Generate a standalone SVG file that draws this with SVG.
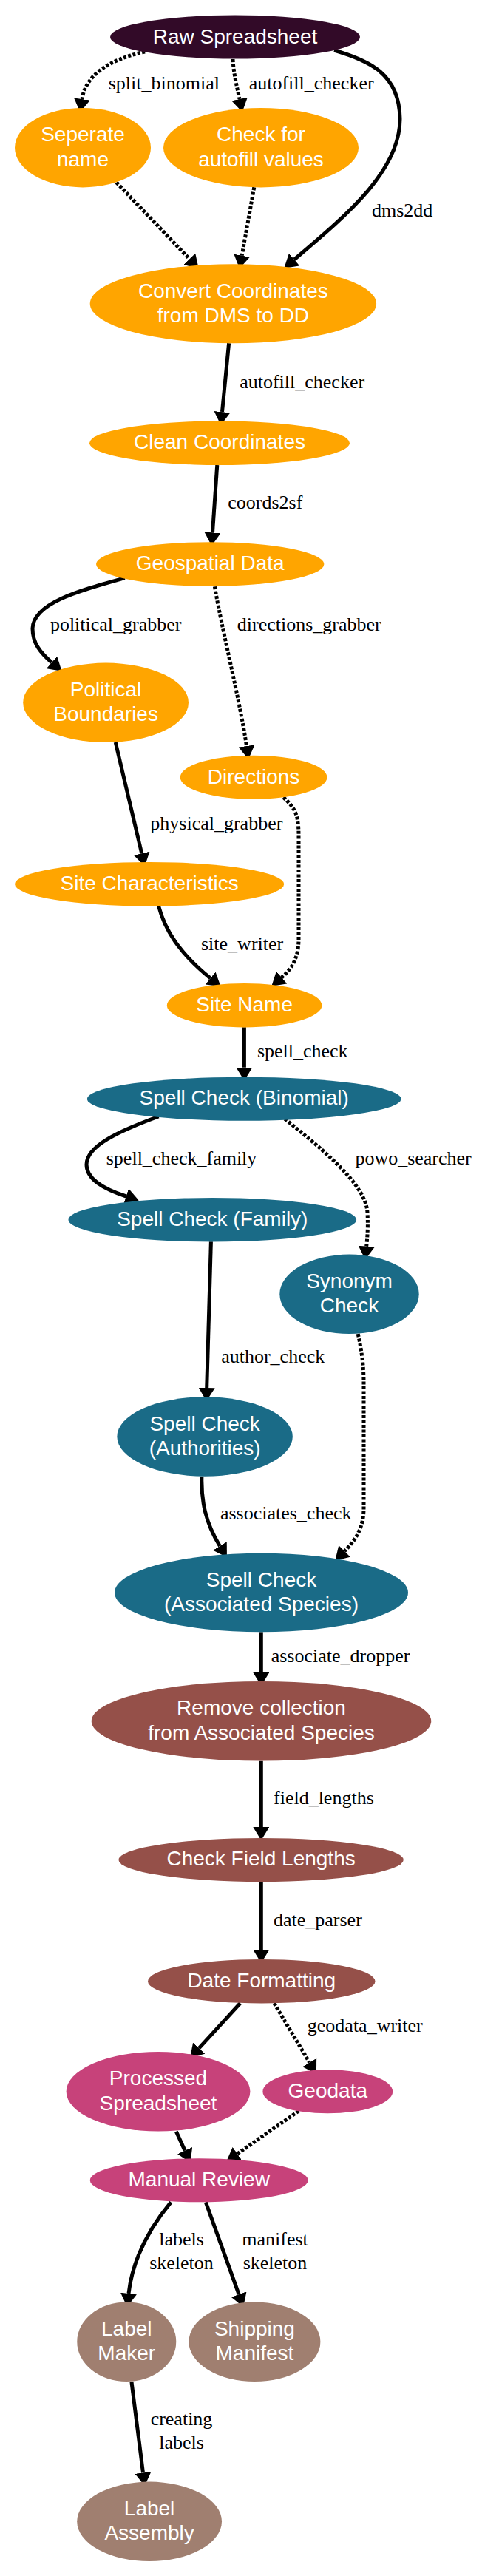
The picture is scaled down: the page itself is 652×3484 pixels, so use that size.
<svg xmlns="http://www.w3.org/2000/svg" width="652" height="3484" viewBox="0 0 652 3484">
<defs>
<marker id="ah" markerUnits="userSpaceOnUse" markerWidth="18" markerHeight="22" viewBox="0 0 18 22" refX="0" refY="11" orient="auto"><path d="M0,0 L18,11 L0,22 z" fill="#000"/></marker>
</defs>
<style>
.e{fill:none;stroke:#000;stroke-width:5;marker-end:url(#ah)}
.d{stroke-dasharray:4 2.5}
.nt{font-family:"Liberation Sans",Arial,sans-serif;font-size:28px;fill:#fff;text-anchor:middle}
.lt{font-family:"Liberation Serif","Times New Roman",serif;font-size:26px;fill:#000}
.m{text-anchor:middle}
.c1{fill:#320a28}.c2{fill:#ffa500}.c3{fill:#1a6b87}.c4{fill:#955049}.c5{fill:#c7427a}.c6{fill:#a07f70}
</style>
<rect width="652" height="3484" fill="#fff"/>
<g id="edges">
<path class="e d" d="M196,70 C150,80 116,100 111,134"/>
<path class="e d" d="M315,80 C316,100 320,115 324,134"/>
<path class="e" d="M452,68 C500,82 540,100 541,160 C542,230 470,290 398,351"/>
<path class="e d" d="M157.5,246.7 L256.3,350.3"/>
<path class="e d" d="M343.75,253.3 L327.2,345.6"/>
<path class="e" d="M309.6,464.3 L300.5,557.1"/>
<path class="e" d="M293.75,629 L287.5,720.3"/>
<path class="e" d="M168.75,781.7 C110,798 45,815 44,850 C44,870 55,883 70,896"/>
<path class="e d" d="M290.4,793.3 C300,850 325,950 333.5,1009"/>
<path class="e" d="M156.25,1004 L191.7,1154.2"/>
<path class="e d" d="M383.3,1078.3 C398,1092 404,1100 404,1130 L404,1270 C404,1295 395,1310 381,1322"/>
<path class="e" d="M214.6,1225.7 C225,1265 250,1295 284.6,1323"/>
<path class="e" d="M330.4,1389.3 L330.4,1443.7"/>
<path class="e" d="M214.6,1510 C160,1530 117,1550 117,1575 C117,1595 140,1608 170.6,1618"/>
<path class="e d" d="M385.4,1513.3 C430,1550 495,1600 497,1640 C498,1660 497,1672 495.7,1685.7"/>
<path class="e" d="M285.4,1679.3 L279.7,1877"/>
<path class="e" d="M272.9,1996.7 C272,2030 278,2060 297.4,2091"/>
<path class="e d" d="M484.2,1804 C490,1830 492,1850 492,1870 L492,2040 C492,2065 482,2082 466,2098"/>
<path class="e" d="M353.3,2207.3 L353.3,2262"/>
<path class="e" d="M353.3,2381.7 L353.3,2471"/>
<path class="e" d="M353.3,2545 L353.3,2637"/>
<path class="e" d="M325,2709.3 L269.2,2770.1"/>
<path class="e d" d="M370.8,2709.3 L418.7,2789.5"/>
<path class="e" d="M238.3,2882.7 L250.1,2908.6"/>
<path class="e d" d="M404.2,2855 L321,2913"/>
<path class="e" d="M231.25,2978.3 C205,3010 180,3050 174,3102"/>
<path class="e" d="M278.3,2978.3 L323.1,3103.1"/>
<path class="e" d="M177.9,3221 L193.5,3344.4"/>
</g>
<g id="edge-labels">
<text class="lt" x="146.7" y="120.7">split_binomial</text>
<text class="lt" x="336.7" y="120.7">autofill_checker</text>
<text class="lt" x="503" y="293.3">dms2dd</text>
<text class="lt" x="324.2" y="525">autofill_checker</text>
<text class="lt" x="308.3" y="688.3">coords2sf</text>
<text class="lt" x="67.9" y="852.7">political_grabber</text>
<text class="lt" x="320.8" y="852.7">directions_grabber</text>
<text class="lt" x="203.3" y="1121.7">physical_grabber</text>
<text class="lt" x="272" y="1285">site_writer</text>
<text class="lt" x="347.9" y="1430">spell_check</text>
<text class="lt" x="143.75" y="1575">spell_check_family</text>
<text class="lt" x="480.4" y="1575">powo_searcher</text>
<text class="lt" x="299.2" y="1843.3">author_check</text>
<text class="lt" x="297.9" y="2055">associates_check</text>
<text class="lt" x="366.7" y="2248.3">associate_dropper</text>
<text class="lt" x="370" y="2440">field_lengths</text>
<text class="lt" x="370" y="2605">date_parser</text>
<text class="lt" x="415.8" y="2748.3">geodata_writer</text>
<text class="lt m" x="245.5" y="3036.7">labels</text>
<text class="lt m" x="245.5" y="3069.3">skeleton</text>
<text class="lt m" x="372" y="3036.7">manifest</text>
<text class="lt m" x="372" y="3069.3">skeleton</text>
<text class="lt m" x="245.5" y="3280">creating</text>
<text class="lt m" x="245.5" y="3311.7">labels</text>
</g>
<g id="n1"><ellipse class="c1" cx="318" cy="50" rx="169" ry="29.5"/><text class="nt" x="318" y="59">Raw Spreadsheet</text></g>
<g id="n2"><ellipse class="c2" cx="112" cy="199.7" rx="92" ry="53.7"/><text class="nt" x="112" y="191.2">Seperate</text><text class="nt" x="112" y="224.7">name</text></g>
<g id="n3"><ellipse class="c2" cx="353" cy="199.7" rx="132" ry="53.7"/><text class="nt" x="353" y="191.2">Check for</text><text class="nt" x="353" y="224.7">autofill values</text></g>
<g id="n4"><ellipse class="c2" cx="315.4" cy="410.8" rx="193.7" ry="53.5"/><text class="nt" x="315.4" y="402.5">Convert Coordinates</text><text class="nt" x="315.4" y="435.5">from DMS to DD</text></g>
<g id="n5"><ellipse class="c2" cx="297" cy="599.2" rx="176" ry="29.8"/><text class="nt" x="297" y="607">Clean Coordinates</text></g>
<g id="n6"><ellipse class="c2" cx="284.2" cy="763" rx="154.2" ry="29.7"/><text class="nt" x="284.2" y="771">Geospatial Data</text></g>
<g id="n7"><ellipse class="c2" cx="143.1" cy="950.3" rx="111.9" ry="53.7"/><text class="nt" x="143.1" y="941.7">Political</text><text class="nt" x="143.1" y="975">Boundaries</text></g>
<g id="n8"><ellipse class="c2" cx="343.1" cy="1051.2" rx="99.4" ry="29.5"/><text class="nt" x="343.1" y="1059.5">Directions</text></g>
<g id="n9"><ellipse class="c2" cx="202.1" cy="1195.8" rx="182.1" ry="29.8"/><text class="nt" x="202.1" y="1203.5">Site Characteristics</text></g>
<g id="n10"><ellipse class="c2" cx="330.6" cy="1359.7" rx="104.8" ry="29.7"/><text class="nt" x="330.6" y="1367.5">Site Name</text></g>
<g id="n11"><ellipse class="c3" cx="330.2" cy="1486.2" rx="212.3" ry="29.5"/><text class="nt" x="330.2" y="1494">Spell Check (Binomial)</text></g>
<g id="n12"><ellipse class="c3" cx="287.3" cy="1649.7" rx="194.8" ry="29.7"/><text class="nt" x="287.3" y="1657.5">Spell Check (Family)</text></g>
<g id="n13"><ellipse class="c3" cx="472.5" cy="1750.3" rx="94.2" ry="53.7"/><text class="nt" x="472.5" y="1742">Synonym</text><text class="nt" x="472.5" y="1775.3">Check</text></g>
<g id="n14"><ellipse class="c3" cx="277.1" cy="1943" rx="118.75" ry="53.7"/><text class="nt" x="277.1" y="1934.5">Spell Check</text><text class="nt" x="277.1" y="1967.8">(Authorities)</text></g>
<g id="n15"><ellipse class="c3" cx="353.5" cy="2154" rx="198.5" ry="53.3"/><text class="nt" x="353.5" y="2145.5">Spell Check</text><text class="nt" x="353.5" y="2178.8">(Associated Species)</text></g>
<g id="n16"><ellipse class="c4" cx="353.5" cy="2327.8" rx="229.8" ry="53.8"/><text class="nt" x="353.5" y="2319.3">Remove collection</text><text class="nt" x="353.5" y="2352.6">from Associated Species</text></g>
<g id="n17"><ellipse class="c4" cx="353.1" cy="2515.5" rx="192.7" ry="29.5"/><text class="nt" x="353.1" y="2523.3">Check Field Lengths</text></g>
<g id="n18"><ellipse class="c4" cx="353.75" cy="2679.7" rx="153.75" ry="29.7"/><text class="nt" x="353.75" y="2687.5">Date Formatting</text></g>
<g id="n19"><ellipse class="c5" cx="214" cy="2828.8" rx="124.4" ry="53.8"/><text class="nt" x="214" y="2820.3">Processed</text><text class="nt" x="214" y="2853.6">Spreadsheet</text></g>
<g id="n20"><ellipse class="c5" cx="443.3" cy="2828.8" rx="87.9" ry="29.5"/><text class="nt" x="443.3" y="2836.6">Geodata</text></g>
<g id="n21"><ellipse class="c5" cx="269.2" cy="2948.8" rx="147.5" ry="29.5"/><text class="nt" x="269.2" y="2956.6">Manual Review</text></g>
<g id="n22"><ellipse class="c6" cx="171.25" cy="3167.2" rx="67" ry="53.8"/><text class="nt" x="171.25" y="3158.7">Label</text><text class="nt" x="171.25" y="3192">Maker</text></g>
<g id="n23"><ellipse class="c6" cx="344.4" cy="3167.2" rx="89" ry="53.8"/><text class="nt" x="344.4" y="3158.7">Shipping</text><text class="nt" x="344.4" y="3192">Manifest</text></g>
<g id="n24"><ellipse class="c6" cx="202.1" cy="3410.3" rx="97.9" ry="53.7"/><text class="nt" x="202.1" y="3401.8">Label</text><text class="nt" x="202.1" y="3435">Assembly</text></g>
</svg>
